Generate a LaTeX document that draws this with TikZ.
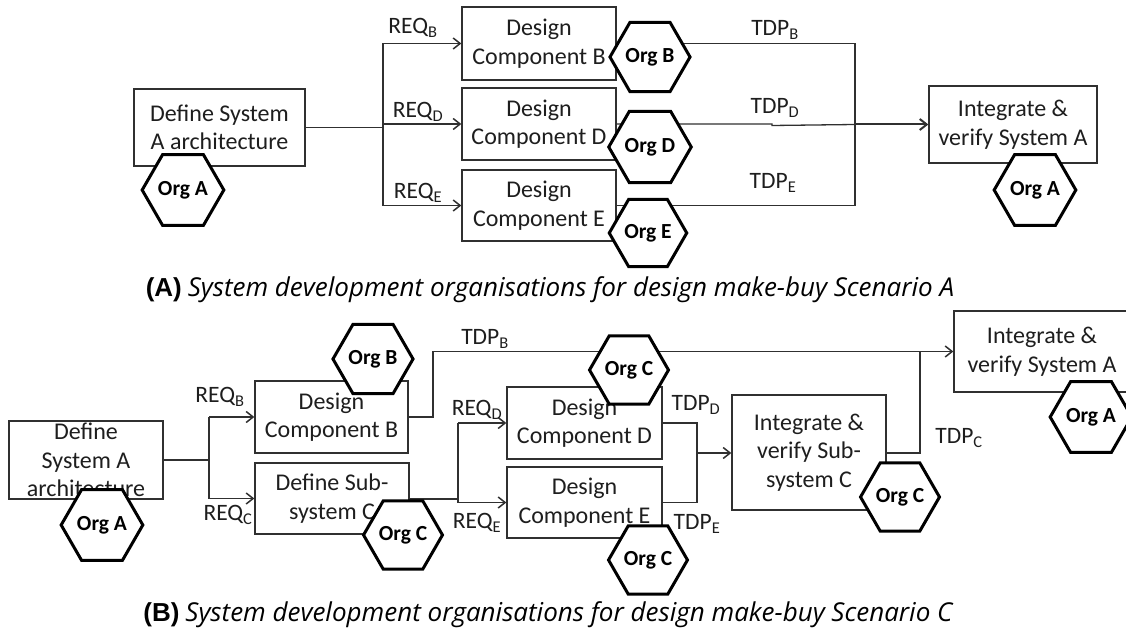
\documentclass[tikz,border=0pt]{standalone}
\usepackage{fontspec}
\setmainfont{Carlito}
\newfontfamily\capfont{Open Sans}
\newfontfamily\capbold{Liberation Sans}
\usetikzlibrary{shapes.geometric,arrows.meta}
\definecolor{ink}{HTML}{1E1E1E}
\definecolor{wire}{HTML}{303030}
\tikzset{
  box/.style={draw=wire,line width=1.3pt,fill=white,inner sep=0pt,align=center,text=ink,
    font=\fontsize{24}{28.5}\selectfont},
  org/.style={regular polygon,regular polygon sides=6,minimum size=67pt,inner sep=0pt,
    draw=black,line width=3pt,fill=white,text=black,font=\fontsize{21.5}{22}\selectfont\bfseries},
  conn/.style={draw=wire,line width=1.3pt},
  arr/.style={conn,-{Straight Barb[length=7pt,width=11pt,line width=1.5pt]}},
  lab/.style={text=ink,inner sep=0pt,font=\fontsize{23.5}{26}\selectfont},
  captext/.style={text=black,inner sep=0pt,font=\fontsize{26}{30}\selectfont},
}
\begin{document}
\begin{tikzpicture}[x=1pt,y=-1pt]
\useasboundingbox (0,0) rectangle (1126,639);
\clip (0,0) rectangle (1126,639);
% ---------------- (A) ----------------
\node[box,minimum width=171pt,minimum height=77pt] (dsa1) at (219.5,127.5) {Define System\\A architecture};
\node[box,minimum width=154pt,minimum height=73pt] (dcB) at (539,43.5) {Design\\Component B};
\node[box,minimum width=154pt,minimum height=72pt] (dcD) at (539,124) {Design\\Component D};
\node[box,minimum width=154pt,minimum height=71pt] (dcE) at (539,205.5) {Design\\Component E};
\node[box,minimum width=168pt,minimum height=77pt] (iva1) at (1013,124.5) {Integrate \&\\verify System A};
\coordinate (brA) at (383,127.5);
\coordinate (jnA) at (855,124.5);
\draw[conn] (dsa1.east) -- (brA);
\draw[conn] (brA |- dcB.west) -- (brA |- dcE.west);
\draw[arr] (brA |- dcB.west) -- (dcB.west);
\draw[arr] (brA |- dcD.west) -- (dcD.west);
\draw[arr] (brA |- dcE.west) -- (dcE.west);
\draw[conn] (dcB.east) -- (jnA |- dcB.east) -- (jnA |- dcE.east) -- (dcE.east);
\draw[conn] (dcD.east) -- (772,124) -- (772,125.5) -- (jnA);
\draw[conn,line width=2pt,-{Straight Barb[length=7pt,width=11pt,line width=2pt]}] (jnA) -- (iva1.west);
\node[lab] (rqB1) at (413,28) {REQ\textsubscript{B}};
\node[lab] (rqD1) at (418,112) {REQ\textsubscript{D}};
\node[lab] (rqE1) at (418,193) {REQ\textsubscript{E}};
\node[lab] (tdB1) at (775,30) {TDP\textsubscript{B}};
\node[lab] (tdD1) at (775,108) {TDP\textsubscript{D}};
\node[lab] (tdE1) at (773,183) {TDP\textsubscript{E}};
\node[org] (oA1) at (183,190) {Org A};
\node[org] (oB1) at (650,57) {Org B};
\node[org] (oD1) at (650,147) {Org D};
\node[org] (oE1) at (648,233) {Org E};
\node[org] (oA1b) at (1035,190) {Org A};
\node[captext] (capA) at (550,290) {{\capbold\bfseries (A)} {\capfont\itshape System development organisations for design make-buy Scenario A}};
% ---------------- (B) ----------------
\node[box,minimum width=154pt,minimum height=78pt] (dsa2) at (86,460) {};
\node[lab,font=\fontsize{24}{28.5}\selectfont,align=center] (dsa2t) at (86,460) {Define\\System A\\architecture};
\node[box,minimum width=153pt,minimum height=72pt] (dcB2) at (331.5,417) {Design\\Component B};
\node[box,minimum width=154pt,minimum height=71pt] (dsc) at (332,498.5) {Define Sub-\\system C};
\node[box,minimum width=155pt,minimum height=72pt] (dcD2) at (584.5,423) {Design\\Component D};
\node[box,minimum width=155pt,minimum height=71pt] (dcE2) at (584.5,502.5) {Design\\Component E};
\node[box,minimum width=154pt,minimum height=115pt] (ivsc) at (809,452.5) {Integrate \&\\verify Sub-\\system C};
\node[box,minimum width=176pt,minimum height=81pt] (iva2) at (1042,351.5) {Integrate \&\\verify System A};
\coordinate (brB) at (209,460);
\coordinate (brC) at (458,499);
\coordinate (jnDE) at (697,453);
\coordinate (stB) at (433,417);
\coordinate (jnC) at (920,453);
\draw[conn] (dsa2.east) -- (brB);
\draw[conn] (brB |- dcB2.west) -- (brB |- dsc.west);
\draw[arr] (brB |- dcB2.west) -- (dcB2.west);
\draw[arr] (brB |- dsc.west) -- (dsc.west);
\draw[conn] (dsc.east |- brC) -- (brC);
\draw[conn] (brC |- dcD2.west) -- (brC |- dcE2.west);
\draw[arr] (brC |- dcD2.west) -- (dcD2.west);
\draw[arr] (brC |- dcE2.west) -- (dcE2.west);
\draw[conn] (dcD2.east) -- (jnDE |- dcD2.east) -- (jnDE |- dcE2.east) -- (dcE2.east);
\draw[arr] (jnDE) -- (ivsc.west |- jnDE);
\draw[arr] (dcB2.east) -- (stB) -- (stB |- iva2.west) -- (iva2.west);
\draw[conn] (ivsc.east |- jnC) -- (jnC) -- (jnC |- iva2.west);
\node[lab] (rqB2) at (220,397) {REQ\textsubscript{B}};
\node[lab] (rqC2) at (228,515) {REQ\textsubscript{C}};
\node[lab] (rqD2) at (477,410) {REQ\textsubscript{D}};
\node[lab] (rqE2) at (477,523) {REQ\textsubscript{E}};
\node[lab] (tdB2) at (485,339) {TDP\textsubscript{B}};
\node[lab] (tdD2) at (696,405) {TDP\textsubscript{D}};
\node[lab] (tdE2) at (697,524) {TDP\textsubscript{E}};
\node[lab] (tdC2) at (959,438) {TDP\textsubscript{C}};
\node[org] (oA2) at (102,525) {Org A};
\node[org] (oB2) at (373,359) {Org B};
\node[org] (oC1) at (403,535) {Org C};
\node[org] (oC2) at (629,370) {Org C};
\node[org] (oC3) at (648,560) {Org C};
\node[org] (oC4) at (900,497) {Org C};
\node[org] (oA3) at (1091,417) {Org A};
\node[captext] (capB) at (548,615) {{\capbold\bfseries (B)} {\capfont\itshape System development organisations for design make-buy Scenario C}};
\end{tikzpicture}
\end{document}
